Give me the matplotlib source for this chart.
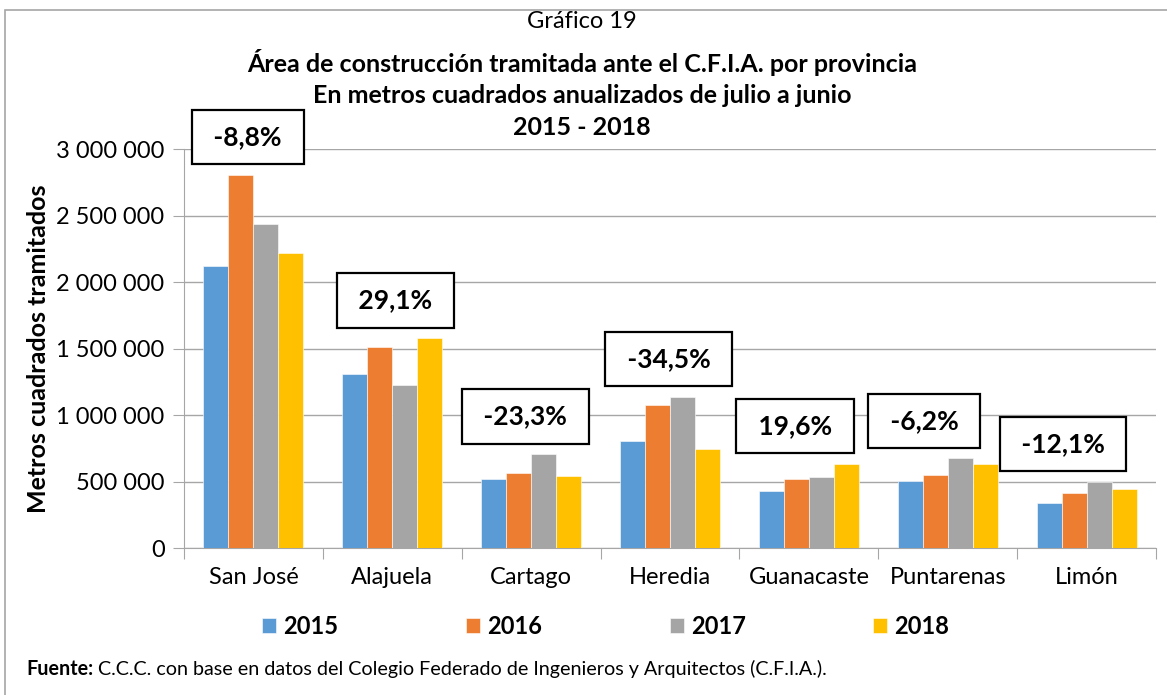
import matplotlib.pyplot as plt
import numpy as np
from matplotlib.patches import Rectangle

plt.rcParams['font.family'] = ['Lato', 'DejaVu Sans']

# datos
provincias = ['San José', 'Alajuela', 'Cartago', 'Heredia', 'Guanacaste', 'Puntarenas', 'Limón']
anios = ['2015', '2016', '2017', '2018']
v2015 = [2122000, 1308000, 519000, 802000, 426000, 501000, 338000]
v2016 = [2807000, 1511000, 566000, 1078000, 521000, 546000, 411000]
v2017 = [2436000, 1226000, 707000, 1138000, 534000, 674000, 500000]
v2018 = [2220000, 1581000, 541000, 747000, 634000, 629000, 441000]
variacion = ['-8,8%', '29,1%', '-23,3%', '-34,5%', '19,6%', '-6,2%', '-12,1%']

colores = ['#5B9BD5', '#ED7D31', '#A5A5A5', '#FFC000']
# desplazamiento horizontal de las etiquetas (puntos)
label_dx = [-4, 2, -4, -1, -10, -17, -17]

fig = plt.figure(figsize=(11.67, 6.95), dpi=100)
ax = fig.add_axes([0.1577, 0.2115, 0.8329, 0.5741])

x = np.arange(len(provincias))
w = 0.18
series = [v2015, v2016, v2017, v2018]
for i, (vals, c) in enumerate(zip(series, colores)):
    ax.bar(x + (i - 1.5) * w, vals, width=w, color=c, label=anios[i], zorder=3,
           edgecolor='white', linewidth=0.4)

ax.set_xlim(-0.5, len(provincias) - 0.5)
ax.set_ylim(0, 3000000)
ax.set_yticks(np.arange(0, 3000001, 500000))
ax.set_yticklabels([f'{int(v):,}'.replace(',', ' ') for v in np.arange(0, 3000001, 500000)])
ax.grid(axis='y', color='#A6A6A6', linewidth=1, zorder=0)

ax.set_xticks(np.arange(-0.5, len(provincias)), minor=False)
ax.set_xticklabels([])
ax.set_xticks(x, minor=True)
ax.set_xticklabels(provincias, minor=True)
ax.tick_params(axis='x', which='major', length=8, color='#A6A6A6', direction='out')
ax.tick_params(axis='x', which='minor', length=0, pad=14, labelsize=17)
ax.tick_params(axis='y', length=8, color='#A6A6A6', labelsize=17, pad=6)

for s in ['top', 'right']:
    ax.spines[s].set_visible(False)
ax.spines['left'].set_color('#A6A6A6')
ax.spines['bottom'].set_color('#A6A6A6')

ax.set_ylabel('Metros cuadrados tramitados', fontsize=18, fontweight='bold')
ax.yaxis.set_label_coords(-0.138, 0.5)

# etiquetas de variacion
maximos = np.max(np.array(series), axis=0)
for i, txt in enumerate(variacion):
    ax.annotate(' ' + txt + ' ', (x[i], maximos[i]), xytext=(label_dx[i], 27), textcoords='offset points',
                ha='center', va='center', fontsize=19, fontweight='bold', zorder=5,
                annotation_clip=False,
                bbox=dict(boxstyle='square,pad=0.58', facecolor='white', edgecolor='black', linewidth=1.6))

# titulos
fig.text(0.4987, 0.969, 'Gráfico 19', ha='center', va='center', fontsize=17)
fig.text(0.4987, 0.910, 'Área de construcción tramitada ante el C.F.I.A. por provincia',
         ha='center', va='center', fontsize=18, fontweight='bold')
fig.text(0.4987, 0.863, 'En metros cuadrados anualizados de julio a junio',
         ha='center', va='center', fontsize=18, fontweight='bold')
fig.text(0.4987, 0.817, '2015 - 2018', ha='center', va='center', fontsize=18, fontweight='bold')

# leyenda
fig.legend(loc='center', bbox_to_anchor=(0.519, 0.099), ncol=4, frameon=False,
           prop={'size': 17, 'weight': 'bold'}, handlelength=0.6, handleheight=0.6,
           handletextpad=0.3, columnspacing=5.4)

# fuente
t1 = fig.text(0.0223, 0.037, 'Fuente:', fontsize=14.2, fontweight='bold', va='center')
fig.canvas.draw()
bb = t1.get_window_extent()
fig.text(bb.x1 / fig.bbox.width + 0.004, 0.037,
         'C.C.C. con base en datos del Colegio Federado de Ingenieros y Arquitectos (C.F.I.A.).',
         fontsize=14.2, va='center')

# marco
fig.patches.append(Rectangle((5 / 1167, -0.01), 1.1, 1 - 10 / 695 + 0.01, transform=fig.transFigure,
                             fill=False, edgecolor='#A6A6A6', linewidth=1.2))

plt.savefig('out.png', dpi=100)
